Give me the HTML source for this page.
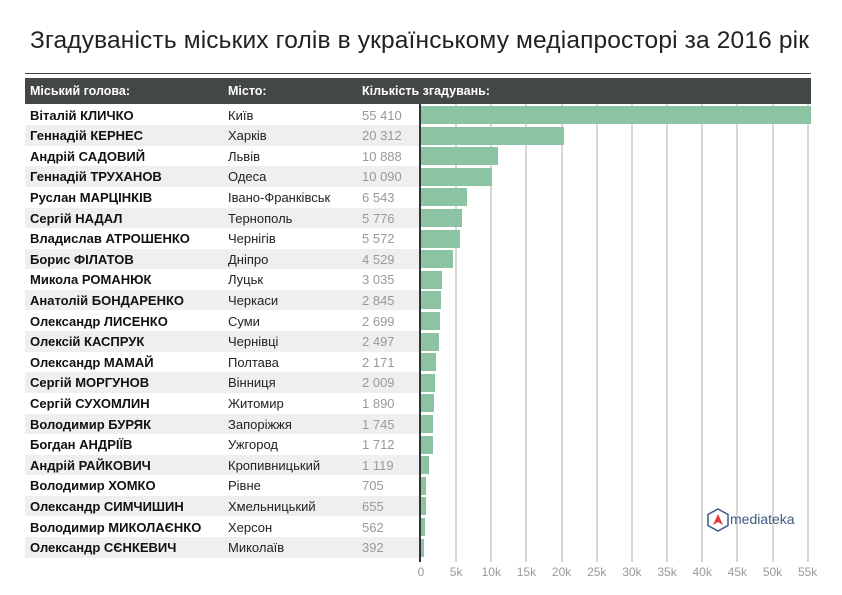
<!DOCTYPE html>
<html><head><meta charset="utf-8"><style>
body{margin:0;width:842px;height:595px;background:#fff;position:relative;overflow:hidden;font-family:"Liberation Sans","DejaVu Sans",sans-serif}
.a{position:absolute;white-space:nowrap}
.t{left:30px;top:27px;font-size:24.5px;letter-spacing:0.15px;color:#222}
.h{left:25px;top:78px;width:786px;height:26px;background:#444844}
.hl{color:#fff;font-weight:bold;font-size:12.5px;top:84px}
.row{left:25px;width:395px;height:20.6px}
.n{left:30px;font-weight:bold;font-size:13px;color:#111}
.c{left:228px;font-size:13px;color:#222}
.v{left:362px;font-size:13px;color:#999}
.g{width:2px;background:#d6d6d6;top:104px;height:458px}
.bar{left:421px;background:#8cc3a3}
.tk{top:565px;font-size:12px;color:#999;transform:translateX(-50%)}
</style></head><body>
<div class="a t">Згадуваність міських голів в українському медіапросторі за 2016 рік</div>
<div class="a" style="left:25px;top:73px;width:786px;height:1px;background:#444"></div>
<div class="a h"></div>
<div class="a hl" style="left:30px">Міський голова:</div>
<div class="a hl" style="left:228px">Місто:</div>
<div class="a hl" style="left:362px">Кількість згадувань:</div>
<div id="c"></div>
<div class="a" style="left:707px;top:508px;width:22px;height:24px;">
<svg width="22" height="24"><polygon points="11,1 21,6.5 21,17.5 11,23 1,17.5 1,6.5" fill="#fff" stroke="#3d5a80" stroke-width="1.5"/><polygon points="11,6 16,17 11,14 6,17" fill="#e53935"/></svg></div>
<div class="a" style="left:730px;top:511px;font-size:14px;color:#3d5a80">mediateka</div>
<script>
var d=[["Віталій КЛИЧКО","Київ",55410],["Геннадій КЕРНЕС","Харків",20312],["Андрій САДОВИЙ","Львів",10888],["Геннадій ТРУХАНОВ","Одеса",10090],["Руслан МАРЦІНКІВ","Івано-Франківськ",6543],["Сергій НАДАЛ","Тернополь",5776],["Владислав АТРОШЕНКО","Чернігів",5572],["Борис ФІЛАТОВ","Дніпро",4529],["Микола РОМАНЮК","Луцьк",3035],["Анатолій БОНДАРЕНКО","Черкаси",2845],["Олександр ЛИСЕНКО","Суми",2699],["Олексій КАСПРУК","Чернівці",2497],["Олександр МАМАЙ","Полтава",2171],["Сергій МОРГУНОВ","Вінниця",2009],["Сергій СУХОМЛИН","Житомир",1890],["Володимир БУРЯК","Запоріжжя",1745],["Богдан АНДРІЇВ","Ужгород",1712],["Андрій РАЙКОВИЧ","Кропивницький",1119],["Володимир ХОМКО","Рівне",705],["Олександр СИМЧИШИН","Хмельницький",655],["Володимир МИКОЛАЄНКО","Херсон",562],["Олександр СЄНКЕВИЧ","Миколаїв",392]];
var h="",s=7.03;
for(var k=1;k<=11;k++)h+='<div class="a g" style="left:'+(420+k*5*s)+'px"></div>';
for(var i=0;i<=11;i++)h+='<div class="a tk" style="left:'+(421+i*5*s)+'px">'+(i?i*5+'k':'0')+'</div>';
d.forEach(function(r,i){var y=104.5+i*20.6;
if(i%2)h+='<div class="a row" style="top:'+y+'px;background:#efefef"></div>';
h+='<div class="a n" style="top:'+(y+3)+'px">'+r[0]+'</div><div class="a c" style="top:'+(y+3)+'px">'+r[1]+'</div><div class="a v" style="top:'+(y+3)+'px">'+r[2].toLocaleString('en').replace(',',' ')+'</div>';
h+='<div class="a bar" style="top:'+(y+1.5)+'px;height:18px;width:'+(r[2]/1000*s)+'px"></div>';});
h+='<div class="a" style="left:419px;top:104px;width:2px;height:458px;background:#333"></div>';
document.getElementById('c').innerHTML=h;
</script>
</body></html>
